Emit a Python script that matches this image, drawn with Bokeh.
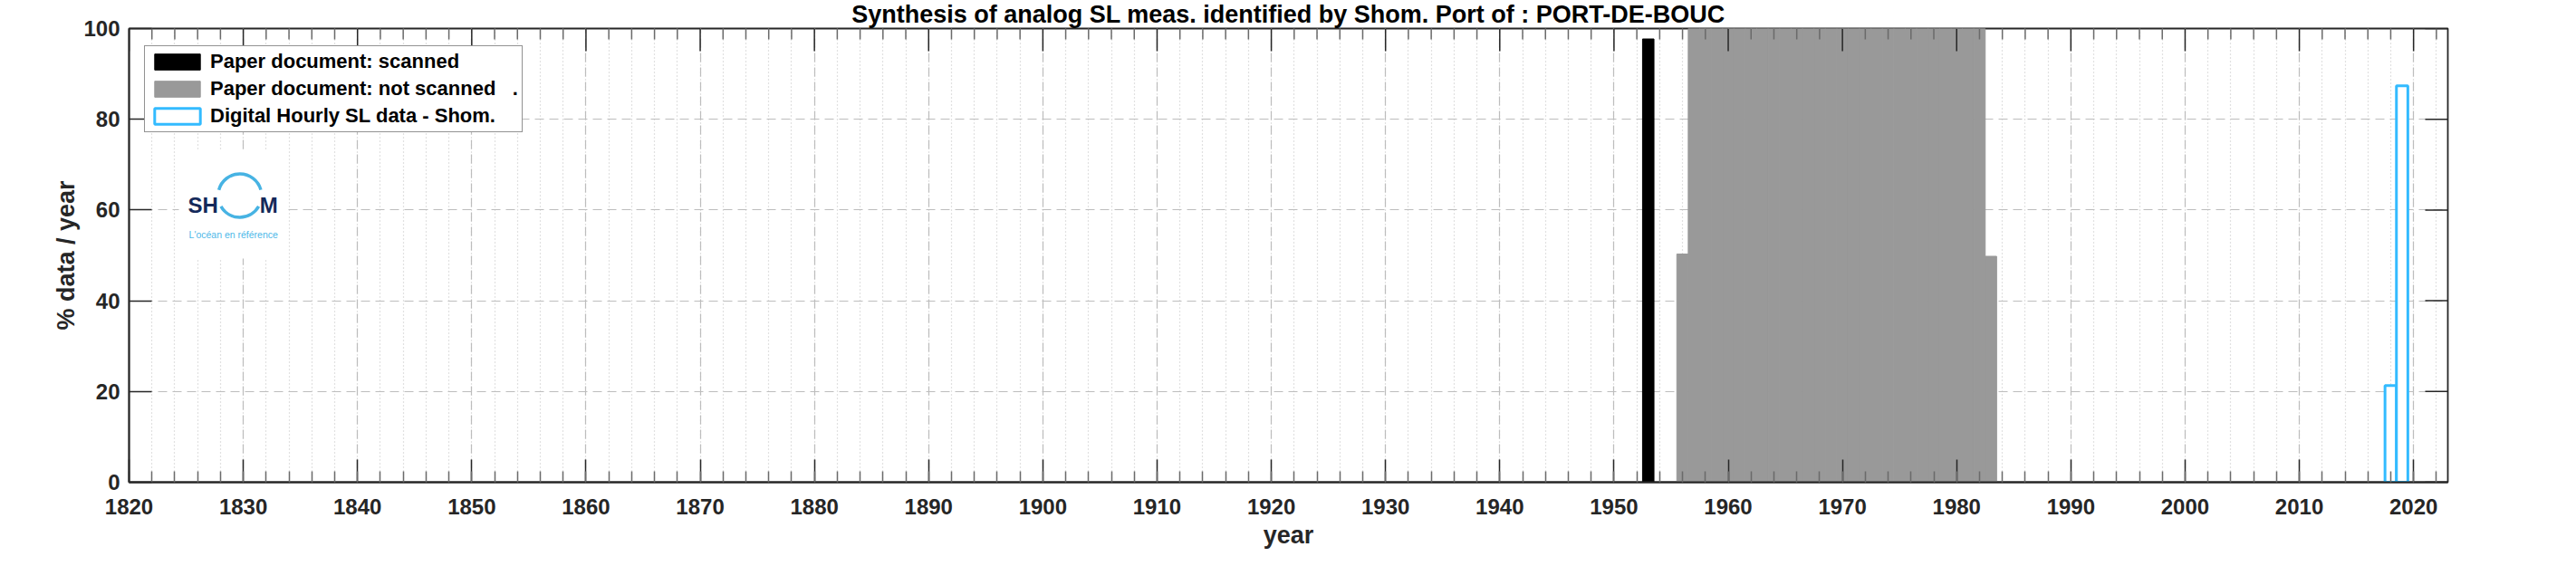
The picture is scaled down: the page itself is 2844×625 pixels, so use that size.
import math
from bokeh.plotting import figure
from bokeh.models import (Range1d, SingleIntervalTicker, Legend, LegendItem,
                          Label, ColumnDataSource, Title)
from bokeh.embed import file_html
from bokeh.resources import INLINE

# ---------------- data ----------------
scanned_years = [1953]
scanned_pct = [97.7]

notscanned_years = [1956, 1957, 1958, 1959, 1960, 1961, 1962, 1963, 1964, 1965,
                    1966, 1967, 1968, 1969, 1970, 1971, 1972, 1973, 1974, 1975,
                    1976, 1977, 1978, 1979, 1980, 1981, 1982, 1983]
notscanned_pct = [50.3, 100, 100, 100, 100, 100, 100, 100, 100, 100,
                  100, 100, 100, 100, 100, 100, 100, 100, 100, 100,
                  100, 100, 100, 100, 100, 100, 100, 49.8]

digital_years = [2018, 2019]
digital_pct = [21.3, 87.4]

x_major_ticks = list(range(1820, 2021, 10))
x_minor_ticks = [t for t in range(1822, 2023, 2) if t % 10 != 0]
y_major_ticks = [0, 20, 40, 60, 80, 100]

title_text = "Synthesis of analog SL meas. identified by Shom. Port of : PORT-DE-BOUC"
legend_labels = ["Paper document: scanned",
                 "Paper document: not scanned   .",
                 "Digital Hourly SL data - Shom."]

# ---------------- layout ----------------
SHIFT = 14                      # canvas pulled up (title panel is taller than the top border)
W, H = 2844, 625 + SHIFT
ML, MR, MT, MB = 142, 142, 31 + SHIFT, 93
FW, FH = W - ML - MR, H - MT - MB
X0, X1 = 1820, 2023
Y0, Y1 = 0, 100

FONT = "Liberation Sans"
TXT = "#262626"

p = figure(width=W, height=H, output_backend="svg", toolbar_location=None,
           x_range=Range1d(X0, X1), y_range=Range1d(Y0, Y1),
           min_border_left=ML, min_border_right=MR, min_border_top=MT, min_border_bottom=MB,
           background_fill_color="white", border_fill_color="white")
p.styles = {"margin-top": "-%dpx" % SHIFT}
p.outline_line_color = TXT
p.outline_line_width = 1.8

p.title = Title(text=title_text, align="center", standoff=2, text_font=FONT,
                text_font_style="bold", text_font_size="27px", text_color="black")

xticker = SingleIntervalTicker(interval=10, num_minor_ticks=5)
yticker = SingleIntervalTicker(interval=20, num_minor_ticks=0)

def style_axis(ax, minor=True):
    ax.axis_line_color = TXT
    ax.axis_line_width = 1.8
    ax.major_tick_in = 25
    ax.major_tick_out = 0
    ax.major_tick_line_color = TXT
    ax.major_tick_line_width = 1.5
    if minor:
        ax.minor_tick_in = 12
        ax.minor_tick_out = 0
        ax.minor_tick_line_color = "#6a6a6a"
        ax.minor_tick_line_width = 1.5
    else:
        ax.minor_tick_line_color = None
    ax.major_label_text_font = FONT
    ax.major_label_text_font_style = "bold"
    ax.major_label_text_font_size = "24px"
    ax.major_label_text_color = TXT
    ax.axis_label_text_font = FONT
    ax.axis_label_text_font_style = "bold"
    ax.axis_label_text_font_size = "27px"
    ax.axis_label_text_color = TXT

xa = p.xaxis[0]
xa.ticker = xticker
style_axis(xa)
xa.axis_label = "year"
xa.major_label_standoff = 18
xa.axis_label_standoff = 5

ya = p.yaxis[0]
ya.ticker = yticker
style_axis(ya, minor=False)
ya.axis_label = "% data / year"
ya.major_label_standoff = 10
ya.axis_label_standoff = 1

# grid
p.xgrid.ticker = xticker
p.ygrid.ticker = yticker
for g in (p.xgrid, p.ygrid):
    g.grid_line_color = "#bdbdbd"
    g.grid_line_dash = "10 6"
    g.grid_line_width = 1.2
p.xgrid.minor_grid_line_color = "#c4c4c4"
p.xgrid.minor_grid_line_dash = "1 3"
p.xgrid.minor_grid_line_width = 1.2

# ---------------- logo (decoration, positioned in pixels from frame top-left) ----------------
def px2x(dx):
    return X0 + dx * (X1 - X0) / FW

def px2y(dy):
    return Y1 - dy * (Y1 - Y0) / FH

p.quad(left=[px2x(55)], right=[px2x(171)], top=[px2y(134)], bottom=[px2y(254)],
       fill_color="white", line_color=None)
logo_blue = "#47b3e3"
logo_navy = "#14295a"
cx, cy = px2x(122.3), px2y(184.5)
p.arc(x=[cx], y=[cy], radius=24, radius_units="screen",
      start_angle=0.27, end_angle=2.88, line_color=logo_blue, line_width=3.5)
p.arc(x=[cx], y=[cy], radius=24, radius_units="screen",
      start_angle=3.66, end_angle=5.76, line_color=logo_blue, line_width=3.5)
p.add_layout(Label(x=px2x(65), y=px2y(195.4), text="SH", text_font=FONT, text_font_style="bold",
                   text_font_size="24px", text_color=logo_navy, text_baseline="alphabetic"))
p.add_layout(Label(x=px2x(144.3), y=px2y(195.4), text="M", text_font=FONT, text_font_style="bold",
                   text_font_size="24px", text_color=logo_navy, text_baseline="alphabetic"))
p.add_layout(Label(x=px2x(115.2), y=px2y(227.7), text="L'océan en référence", text_font=FONT,
                   text_font_size="10.5px", text_color="#4db8e8", text_align="center",
                   text_baseline="middle"))

# ---------------- bars ----------------
src_s = ColumnDataSource(dict(x=scanned_years, top=scanned_pct))
src_n = ColumnDataSource(dict(x=notscanned_years, top=notscanned_pct))
src_d = ColumnDataSource(dict(x=digital_years, top=digital_pct))

r_s = p.vbar(x="x", top="top", bottom=0, width=1, source=src_s,
             fill_color="black", line_color="black", line_width=1)
r_n = p.vbar(x="x", top="top", bottom=0, width=1, source=src_n,
             fill_color="#999999", line_color="#999999", line_width=1)
r_d = p.vbar(x="x", top="top", bottom=0, width=1, source=src_d,
             fill_color="white", line_color="#33bbff", line_width=3)

# ---------------- box ticks on top and right edges ----------------
p.ray(x=x_major_ticks, y=[Y1] * len(x_major_ticks), length=25, length_units="screen",
      angle=-math.pi / 2, line_color=TXT, line_width=1.5)
p.ray(x=x_minor_ticks, y=[Y1] * len(x_minor_ticks), length=12, length_units="screen",
      angle=-math.pi / 2, line_color="#6a6a6a", line_width=1.5)
p.ray(x=[X1] * len(y_major_ticks), y=y_major_ticks, length=25, length_units="screen",
      angle=math.pi, line_color=TXT, line_width=1.5)

legend = Legend(items=[LegendItem(label=legend_labels[0], renderers=[r_s]),
                       LegendItem(label=legend_labels[1], renderers=[r_n]),
                       LegendItem(label=legend_labels[2], renderers=[r_d])],
                location=(17, 386), margin=0, padding=4, spacing=4,
                glyph_width=63, glyph_height=22, label_height=22, label_standoff=5,
                label_text_font=FONT, label_text_font_style="bold",
                label_text_font_size="22px", label_text_color="black",
                border_line_color=TXT, border_line_width=1.3,
                background_fill_color="white", background_fill_alpha=1.0)
p.add_layout(legend, "center")

open("out.html", "w").write(file_html(p, INLINE))
